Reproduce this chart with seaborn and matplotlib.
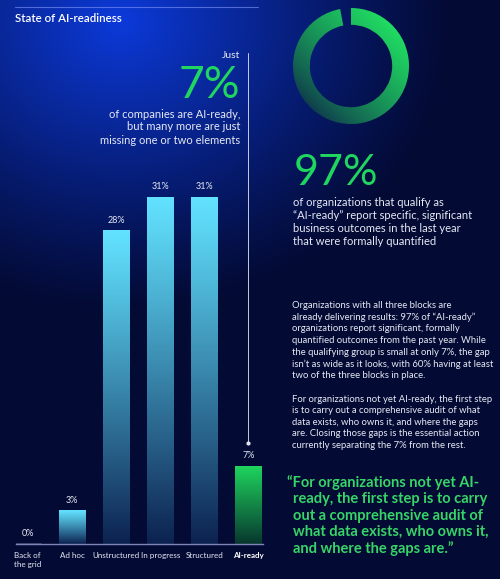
import numpy as np
import pandas as pd
import seaborn as sns
import matplotlib.pyplot as plt
from matplotlib.colors import to_rgb

# chart data
categories = ["Back of\nthe grid", "Ad hoc", "Unstructured", "In progress", "Structured", "AI-ready"]
shares = [0, 3, 28, 31, 31, 7]
donut_parts = [97, 3]

title = "State of AI-readiness"
headline_pre = "Just"
headline_share = "7%"
headline_lines = ["of companies are AI-ready,", "but many more are just", "missing one or two elements"]
outcome_share = "97%"
outcome_lines = [
    "of organizations that qualify as",
    "\u201cAI-ready\u201d report specific, significant",
    "business outcomes in the last year",
    "that were formally quantified",
]
para1 = [
    "Organizations with all three blocks are",
    "already delivering results: 97% of \u201cAI-ready\u201d",
    "organizations report significant, formally",
    "quantified outcomes from the past year. While",
    "the qualifying group is small at only 7%, the gap",
    "isn\u2019t as wide as it looks, with 60% having at least",
    "two of the three blocks in place.",
]
para2 = [
    "For organizations not yet AI-ready, the first step",
    "is to carry out a comprehensive audit of what",
    "data exists, who owns it, and where the gaps",
    "are. Closing those gaps is the essential action",
    "currently separating the 7% from the rest.",
]
quote_lines = [
    "\u201cFor organizations not yet AI-",
    "ready, the first step is to carry",
    "out a comprehensive audit of",
    "what data exists, who owns it,",
    "and where the gaps are.\u201d",
]

W, H = 500, 579
NAVY = "#030a34"
GLOW = "#0c3ada"
CYAN = "#62e2ff"
BAR_BOTTOM = "#0c2250"
GREEN = "#1fd65f"
GREEN_BOTTOM = "#08372e"
TEXT = "#e6e9f4"
QUOTE = "#37d468"

sns.set_theme(style="white")
plt.rcParams["font.family"] = ["Lato", "DejaVu Sans"]


def gradient(top, bottom, n=256, gamma=1.0):
    s = np.linspace(0, 1, n) ** gamma
    a, b = np.array(to_rgb(top)), np.array(to_rgb(bottom))
    return (a + (b - a) * s[:, None])[:, None, :]


fig = plt.figure(figsize=(W / 100, H / 100), dpi=100)

# background with blue glow in the top left
bg = fig.add_axes([0, 0, 1, 1])
yy, xx = np.mgrid[0:H, 0:W]
d = np.sqrt(((xx - 120) / 330) ** 2 + ((yy - 20) / 290) ** 2)
t = np.clip(1 - d, 0, 1) ** 1.1
c0, c1 = np.array(to_rgb(NAVY)), np.array(to_rgb(GLOW))
bg.imshow(c0 + (c1 - c0) * t[..., None], extent=[0, W, H, 0], aspect="auto", zorder=0)
bg.set_xlim(0, W)
bg.set_ylim(H, 0)
bg.set_axis_off()
bg.plot([15, 258], [7, 7], color="#7088f0", lw=0.8, alpha=0.7)

bg.text(15, 18, title, color="white", fontsize=8.3, fontweight="semibold", va="center", ha="left")

# left headline
bg.text(240, 56, headline_pre, color=TEXT, fontsize=7.5, ha="right", va="center")
bg.text(240, 98, headline_share, color=GREEN, fontsize=32, ha="right", va="baseline")
for i, line in enumerate(headline_lines):
    bg.text(240, 114 + i * 13, line, color=TEXT, fontsize=8, ha="right", va="center")

# right column
bg.text(294, 185, outcome_share, color=GREEN, fontsize=31, ha="left", va="baseline")
for i, line in enumerate(outcome_lines):
    bg.text(293, 202 + i * 13.3, line, color=TEXT, fontsize=8, ha="left", va="center")
for i, line in enumerate(para1):
    bg.text(292, 305 + i * 11.8, line, color=TEXT, fontsize=6.8, ha="left", va="center")
for i, line in enumerate(para2):
    bg.text(292, 399 + i * 11.6, line, color=TEXT, fontsize=6.8, ha="left", va="center")
for i, line in enumerate(quote_lines):
    x = 287 if i == 0 else 293
    bg.text(x, 483 + i * 16.3, line, color=QUOTE, fontsize=10.5, fontweight="bold", ha="left", va="center")

# bar chart
ax = fig.add_axes([16 / W, 35 / H, 247 / W, 448 / H])
ax.patch.set_alpha(0)
df = pd.DataFrame({"stage": categories, "share": shares})
palette = [CYAN] * (len(categories) - 1) + [GREEN]
sns.barplot(data=df, x="stage", y="share", hue="stage", palette=palette, width=0.61,
            saturation=1, legend=False, ax=ax)

for bar, cat in zip(ax.patches, categories):
    h = bar.get_height()
    if h <= 0:
        continue
    x0, w = bar.get_x(), bar.get_width()
    if cat == "AI-ready":
        g = gradient(GREEN, GREEN_BOTTOM, gamma=1.0)
    else:
        g = gradient(CYAN, BAR_BOTTOM, gamma=1.1)
    im = ax.imshow(g, extent=[x0, x0 + w, 0, h], aspect="auto", zorder=2)
    im.set_clip_path(bar)
    bar.set_facecolor("none")
    bar.set_edgecolor("none")

for cont in ax.containers:
    ax.bar_label(cont, fmt="%g%%", padding=4, color=TEXT, fontsize=6.5)

# pointer line above the AI-ready bar
ax.plot([5, 5], [shares[-1] + 2.0, 43.8], color="#c5cbe6", lw=0.7, clip_on=False, zorder=3)
ax.plot([5], [shares[-1] + 2.0], "o", ms=2, color="#e0e4f2", clip_on=False, zorder=3)

ax.set_xlim(-0.27, 5.33)
ax.set_ylim(0, 40)
ax.set_xlabel("")
ax.set_ylabel("")
ax.set_yticks([])
sns.despine(ax=ax, left=True)
ax.spines["bottom"].set_color("#7c86b8")
ax.spines["bottom"].set_linewidth(1)
ax.tick_params(axis="x", length=0, pad=6, labelsize=5.8, labelcolor=TEXT)
for lab in ax.get_xticklabels():
    lab.set_multialignment("left")
    if lab.get_text() == "AI-ready":
        lab.set_fontweight("bold")
        lab.set_color("white")

# donut
dax = fig.add_axes([293 / W, (H - 124) / H, 116 / W, 116 / H])
wedges, _ = dax.pie(donut_parts, startangle=90, counterclock=False, radius=1,
                    wedgeprops=dict(width=0.29, linewidth=0))
gy, gx = np.mgrid[1:-1:200j, -1:1:200j]
s = np.clip((gx * 0.7 + gy * 0.7 + 1.0) / 2.0, 0, 1) ** 0.8
a, b = np.array(to_rgb("#0f3a4c")), np.array(to_rgb("#20dc62"))
im = dax.imshow(a + (b - a) * s[..., None], extent=[-1, 1, -1, 1], zorder=2)
im.set_clip_path(wedges[0])
for wdg in wedges:
    wdg.set_facecolor("none")
dax.set_xlim(-1, 1)
dax.set_ylim(-1, 1)
dax.set_axis_off()

fig.savefig("out.png", dpi=100, facecolor=NAVY)
